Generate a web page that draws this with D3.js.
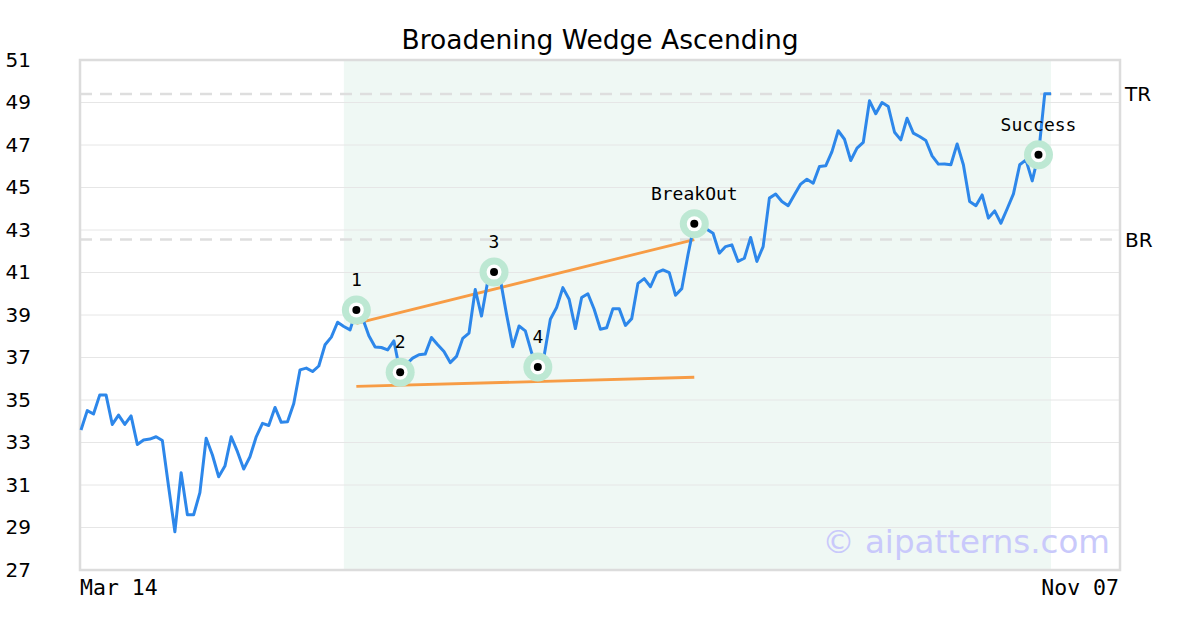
<!DOCTYPE html>
<html>
<head>
<meta charset="utf-8">
<script src="https://cdn.jsdelivr.net/npm/d3@7"></script>
<style>
  html, body { margin: 0; padding: 0; background: #fff; }
  svg { display: block; }
</style>
</head>
<body>
<svg id="chart" width="1200" height="630"></svg>
<script>
// ---- data ----
const title = "Broadening Wedge Ascending";
const xLabels = ["Mar 14", "Nov 07"];
const yTicks = [27, 29, 31, 33, 35, 37, 39, 41, 43, 45, 47, 49, 51];
const prices = [
  33.59, 34.5, 34.34, 35.24, 35.24, 33.85, 34.29, 33.85, 34.25, 32.91,
  33.12, 33.16, 33.27, 33.09, 30.92, 28.8, 31.58, 29.6, 29.6, 30.64,
  33.2, 32.41, 31.39, 31.89, 33.27, 32.57, 31.75, 32.33, 33.27, 33.9,
  33.8, 34.65, 33.95, 33.98, 34.84, 36.42, 36.5, 36.34, 36.6, 37.6,
  37.96, 38.66, 38.46, 38.3, 39.24, 38.85, 38.02, 37.49, 37.47, 37.36,
  37.78, 36.31, 36.69, 36.97, 37.13, 37.16, 37.94, 37.6, 37.28, 36.76,
  37.05, 37.9, 38.15, 40.2, 38.95, 40.6, 41.02, 40.68, 39.03, 37.51,
  38.48, 38.25, 37.23, 36.55, 37.07, 38.8, 39.35, 40.29, 39.74, 38.36,
  39.82, 40.0, 39.27, 38.33, 38.4, 39.3, 39.3, 38.51, 38.83, 40.49,
  40.71, 40.33, 40.99, 41.12, 40.99, 39.93, 40.24, 41.85, 43.29, 43.67,
  43.04, 42.85, 41.91, 42.22, 42.3, 41.52, 41.67, 42.65, 41.52, 42.22,
  44.5, 44.69, 44.34, 44.14, 44.66, 45.16, 45.39, 45.2, 45.99, 46.02,
  46.69, 47.67, 47.27, 46.27, 46.85, 47.12, 49.08, 48.47, 49.0, 48.81,
  47.6, 47.24, 48.26, 47.56, 47.4, 47.21, 46.49, 46.1, 46.11, 46.07,
  47.05, 46.07, 44.34, 44.14, 44.65, 43.56, 43.9, 43.32, 44.0, 44.7,
  46.07, 46.3, 45.31, 46.54, 49.41, 49.41
];
const patternStart = 42;          // index where shaded pattern region begins
const patternEnd = prices.length - 1;
const markerIdx = [44, 51, 66, 73, 98, 153];
const markerLabels = ["1", "2", "3", "4", "BreakOut", "Success"];
const upperLine = [{i: 44, v: 38.61}, {i: 98, v: 42.55}];
const lowerLine = [{i: 44, v: 35.64}, {i: 98, v: 36.07}];
const levels = [{name: "TR", v: 49.4}, {name: "BR", v: 42.55}];
const watermark = "© aipatterns.com";

// ---- layout ----
const svg = d3.select("#chart");
const L = 80, R = 1120, T = 60, B = 570;
const x = d3.scaleLinear().domain([0, prices.length - 1]).range([81, 1051]);
const y = d3.scaleLinear().domain([27, 51]).range([B, T]);

// title
svg.append("text").attr("x", 600).attr("y", 49).attr("text-anchor", "middle")
  .attr("font-family", "DejaVu Sans").attr("font-size", 26.5).attr("fill", "#000")
  .text(title);

// shaded region
svg.append("rect").attr("x", x(patternStart)).attr("y", T)
  .attr("width", x(patternEnd) - x(patternStart)).attr("height", B - T)
  .attr("fill", "#eff8f4");

// gridlines
svg.append("g").selectAll("line").data(yTicks.filter(t => t > 27 && t < 51)).join("line")
  .attr("x1", L).attr("x2", R).attr("y1", d => y(d)).attr("y2", d => y(d))
  .attr("stroke", "#e6e6e6").attr("stroke-width", 1);

// y axis labels
const yAxis = d3.axisLeft(y).tickValues(yTicks).tickSize(0).tickPadding(0);
const yg = svg.append("g").attr("transform", "translate(31,0)").call(yAxis);
yg.select(".domain").remove();
yg.selectAll("text").attr("font-family", "DejaVu Sans").attr("font-size", 20)
  .attr("fill", "#000");

// level dashed lines
svg.append("g").selectAll("line").data(levels).join("line")
  .attr("x1", L).attr("x2", R).attr("y1", d => y(d.v)).attr("y2", d => y(d.v))
  .attr("stroke", "#dedede").attr("stroke-width", 2.5).attr("stroke-dasharray", "12,8");
svg.append("g").selectAll("text").data(levels).join("text")
  .attr("x", 1125).attr("y", d => y(d.v) + 7)
  .attr("font-family", "DejaVu Sans").attr("font-size", 20).attr("fill", "#000")
  .text(d => d.name);

// frame
svg.append("rect").attr("x", L).attr("y", T).attr("width", R - L).attr("height", B - T)
  .attr("fill", "none").attr("stroke", "#dcdcdc").attr("stroke-width", 2.5);

// watermark
svg.append("text").attr("x", 1110).attr("y", 553).attr("text-anchor", "end")
  .attr("font-family", "DejaVu Sans").attr("font-size", 32.5).attr("fill", "#c9c9fb")
  .text(watermark);

// wedge lines
const wl = d3.line().x(d => x(d.i)).y(d => y(d.v));
[upperLine, lowerLine].forEach(seg => {
  svg.append("path").attr("d", wl(seg)).attr("fill", "none")
    .attr("stroke", "#f79c45").attr("stroke-width", 2.8);
});

// price line
const line = d3.line().x((d, i) => x(i)).y(d => y(d));
svg.append("path").attr("d", line(prices)).attr("fill", "none")
  .attr("stroke", "#2d87ea").attr("stroke-width", 3).attr("stroke-linejoin", "round");

// markers
const mk = svg.append("g").selectAll("g").data(markerIdx).join("g")
  .attr("transform", d => `translate(${x(d)},${y(prices[d])})`);
mk.append("circle").attr("r", 14.5).attr("fill", "#bde8d3");
mk.append("circle").attr("r", 7.5).attr("fill", "#fff");
mk.append("circle").attr("r", 4).attr("fill", "#000");
mk.append("text").attr("y", -24).attr("text-anchor", "middle")
  .attr("font-family", "DejaVu Sans Mono").attr("font-size", 18).attr("fill", "#000")
  .text((d, i) => markerLabels[i]);

// x labels
svg.append("text").attr("x", L).attr("y", 595).attr("text-anchor", "start")
  .attr("font-family", "DejaVu Sans Mono").attr("font-size", 21.5).attr("fill", "#000")
  .text(xLabels[0]);
svg.append("text").attr("x", 1119).attr("y", 595).attr("text-anchor", "end")
  .attr("font-family", "DejaVu Sans Mono").attr("font-size", 21.5).attr("fill", "#000")
  .text(xLabels[1]);
</script>
</body>
</html>
